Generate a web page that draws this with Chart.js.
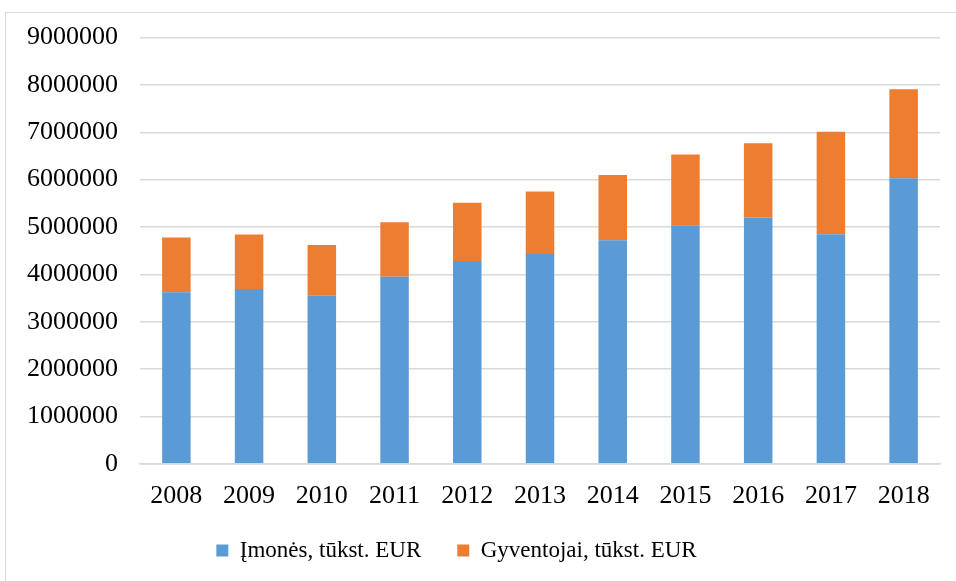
<!DOCTYPE html>
<html>
<head>
<meta charset="utf-8">
<script src="https://cdn.jsdelivr.net/npm/chart.js@4.4.0/dist/chart.umd.min.js"></script>
<style>
  html, body { margin: 0; padding: 0; background: #fff; }
  #frame { position: absolute; left: 5px; top: 12px; width: 970px; height: 590px; border: 1px solid #d9d9d9; box-sizing: border-box; }
  #wrap { position: absolute; left: 0; top: 0; width: 956px; height: 581px; }
</style>
</head>
<body>
<div id="frame"></div>
<div id="wrap"><canvas id="myChart"></canvas></div>
<script>
// years on the x axis
var years = ["2008", "2009", "2010", "2011", "2012", "2013", "2014", "2015", "2016", "2017", "2018"];
// Įmonės, tūkst. EUR
var imones = [3620000, 3690000, 3550000, 3950000, 4280000, 4430000, 4720000, 5040000, 5200000, 4850000, 6030000];
// Gyventojai, tūkst. EUR
var gyventojai = [1160000, 1150000, 1070000, 1150000, 1230000, 1320000, 1380000, 1490000, 1570000, 2160000, 1880000];

var serif = "'Liberation Serif', 'Times New Roman', serif";

// x axis box was shrunk in afterFit, give the labels their room back so they are not clipped
// and nudge the legend a bit to the left like in the original
var fixBoxes = {
  id: 'fixBoxes',
  afterLayout: function (chart) {
    chart.scales.x.bottom += 24;
    chart.legend.left -= 16;
    chart.legend.right -= 16;
  }
};

new Chart(document.getElementById("myChart"), {
  type: 'bar',
  data: {
    labels: years,
    datasets: [
      { label: "Įmonės, tūkst. EUR", backgroundColor: "#5b9bd5", data: imones, barPercentage: 0.8, categoryPercentage: 0.49 },
      { label: "Gyventojai, tūkst. EUR", backgroundColor: "#ed7d31", data: gyventojai, barPercentage: 0.8, categoryPercentage: 0.49 }
    ]
  },
  options: {
    responsive: true,
    maintainAspectRatio: false,
    animation: false,
    layout: { padding: { left: 5, right: 16, top: 33, bottom: 9 } },
    plugins: {
      legend: {
        position: 'bottom',
        labels: { font: { family: serif, size: 23 }, color: '#000', boxWidth: 12, boxHeight: 12, padding: 36 }
      },
      tooltip: { enabled: false }
    },
    scales: {
      x: {
        stacked: true,
        grid: { display: false },
        border: { color: '#d9d9d9', width: 1.5 },
        ticks: { font: { family: serif, size: 26 }, color: '#000', padding: 9, maxRotation: 0 },
        afterFit: function (scale) { scale.height -= 18; } // pull the axis closer to the legend
      },
      y: {
        stacked: true,
        min: 0,
        max: 9000000,
        grid: { color: '#d9d9d9', lineWidth: 1.5, drawTicks: false },
        border: { display: false },
        ticks: {
          stepSize: 1000000,
          font: { family: serif, size: 26 },
          color: '#000',
          padding: 22,
          callback: function (v) { return String(v); }
        }
      }
    }
  },
  plugins: [fixBoxes]
});
</script>
</body>
</html>
